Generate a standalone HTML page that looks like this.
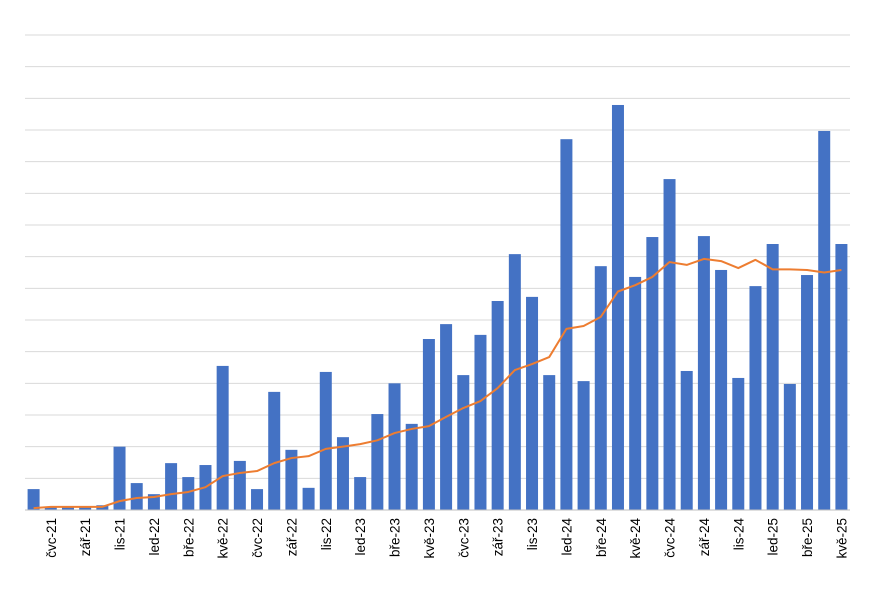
<!DOCTYPE html>
<html><head><meta charset="utf-8"><style>
body{margin:0;background:#fff;width:880px;height:605px;overflow:hidden}
svg{display:block;font-family:"Liberation Sans",sans-serif}
</style></head><body>
<svg id="chart" width="880" height="605"></svg>
<script>
const categories=["čvn-21","čvc-21","srp-21","zář-21","říj-21","lis-21","pro-21","led-22","úno-22","bře-22","dub-22","kvě-22","čvn-22","čvc-22","srp-22","zář-22","říj-22","lis-22","pro-22","led-23","úno-23","bře-23","dub-23","kvě-23","čvn-23","čvc-23","srp-23","zář-23","říj-23","lis-23","pro-23","led-24","úno-24","bře-24","dub-24","kvě-24","čvn-24","čvc-24","srp-24","zář-24","říj-24","lis-24","pro-24","led-25","úno-25","bře-25","dub-25","kvě-25"];
const barValues=[0.66,0.08,0.08,0.08,0.15,2.0,0.85,0.5,1.48,1.04,1.42,4.55,1.55,0.66,3.73,1.9,0.7,4.36,2.3,1.04,3.03,4.0,2.72,5.4,5.87,4.26,5.53,6.6,8.08,6.73,4.26,11.71,4.07,7.7,12.79,7.36,8.62,10.45,4.39,8.65,7.58,4.17,7.07,8.4,3.98,7.42,11.97,8.4];
const lineValues=[0.06,0.1,0.1,0.1,0.1,0.28,0.38,0.41,0.5,0.57,0.72,1.07,1.17,1.23,1.48,1.64,1.7,1.93,2.0,2.08,2.2,2.43,2.56,2.65,2.94,3.22,3.44,3.85,4.42,4.61,4.83,5.72,5.81,6.1,6.9,7.1,7.36,7.83,7.74,7.93,7.86,7.64,7.9,7.6,7.6,7.58,7.5,7.58];
const yMax=15, gridCount=15;
const NS="http://www.w3.org/2000/svg";
const svg=document.getElementById('chart');
const L=25,R=850,T=35,B=510;
const step=(R-L)/categories.length;
const x=i=>L+step*(i+0.5);
const y=v=>B-(v/yMax)*(B-T);
function mk(t,a){const e=document.createElementNS(NS,t);for(const k in a)e.setAttribute(k,a[k]);svg.appendChild(e);return e;}
for(let g=1;g<=gridCount;g++){
 const gl=mk('line',{x1:L,x2:R,y1:y(g*yMax/gridCount),y2:y(g*yMax/gridCount),stroke:'#d9d9d9','stroke-width':1});
 
 
}
barValues.forEach((v,i)=>{
 const b=mk('rect',{x:x(i)-6,y:y(v),width:12,height:B-y(v),fill:'#4472c4'});
 
 
});
const ax=mk('line',{x1:L,x2:R,y1:B,y2:B,stroke:'#bfbfbf','stroke-width':1});


const pl=mk('polyline',{points:lineValues.map((v,i)=>x(i)+','+y(v)).join(' '),fill:'none',stroke:'#ed7d31','stroke-width':2,'stroke-linejoin':'round'});


categories.forEach((c,i)=>{
 if(i%2!==1)return;
 const t=mk('text',{x:0,y:0,transform:`translate(${x(i)+5},518) rotate(-90)`,'text-anchor':'end','font-size':'13.5',fill:'#000'});
 t.textContent=c;
 
 
});
</script>
</body></html>
